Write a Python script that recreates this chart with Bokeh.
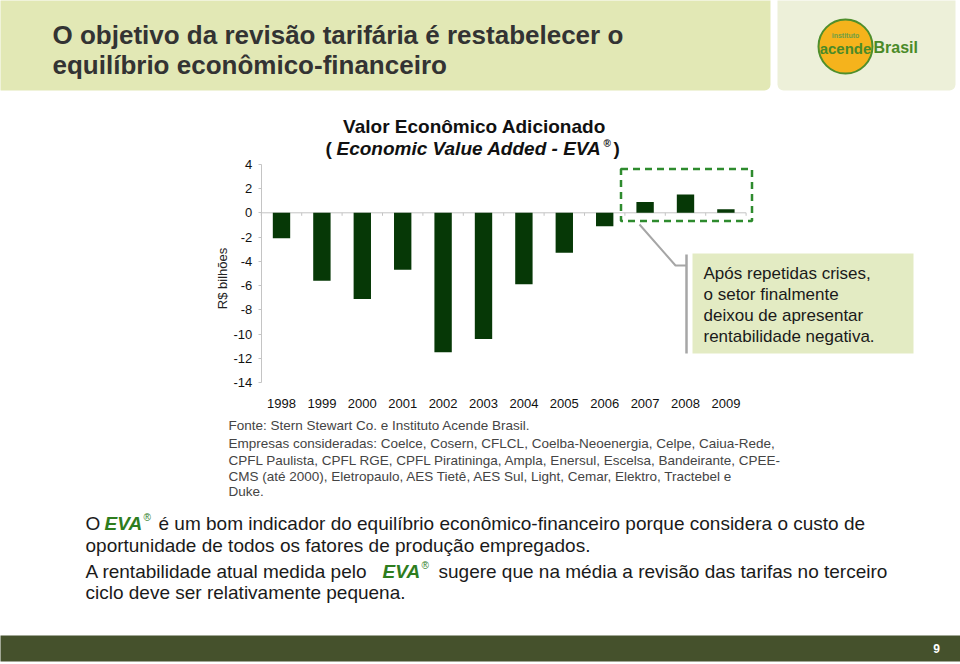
import math
from bokeh.plotting import figure
from bokeh.models import Range1d, LinearAxis, FixedTicker, Label, BoxAnnotation
from bokeh.embed import file_html
from bokeh.resources import INLINE

# ---- data ----
years = [1998, 1999, 2000, 2001, 2002, 2003, 2004, 2005, 2006, 2007, 2008, 2009]
year_labels = ["1998", "1999", "2000", "2001", "2002", "2003", "2004", "2005", "2006", "2007", "2008", "2009"]
eva = [-2.1, -5.6, -7.1, -4.7, -11.5, -10.4, -5.9, -3.3, -1.1, 0.9, 1.5, 0.3]
y_ticks = [-14, -12, -10, -8, -6, -4, -2, 0, 2, 4]
y_tick_labels = ["-14", "-12", "-10", "-8", "-6", "-4", "-2", "0", "2", "4"]

# ---- layout (page pixels) ----
W, H = 960, 664
X0, DX = 281.0, 40.4      # pixel of first category centre, pixels per category
Y0, DY = 212.3, 12.13     # pixel of value 0, pixels per unit
FONT = "Liberation Sans"
AXC = "#c4c4c4"

p = figure(width=W, height=H, output_backend="svg", toolbar_location=None,
           x_range=Range1d(years[0] - X0 / DX, years[0] + (W - X0) / DX),
           y_range=Range1d((Y0 - H) / DY, Y0 / DY),
           x_axis_location=None, y_axis_location=None,
           min_border=0, background_fill_color="white", border_fill_color="white",
           outline_line_color=None)
p.extra_x_ranges = {"page": Range1d(0, W)}
p.extra_y_ranges = {"page": Range1d(H, 0)}
p.grid.visible = False

def box(l, r, t, b, **kw):
    p.add_layout(BoxAnnotation(left=l, right=r, top=t, bottom=b,
                               x_range_name="page", y_range_name="page", **kw))

def lab(x, y, text, size, color="#1a1a1a", style="normal", align="left", font=FONT, angle=0):
    p.add_layout(Label(x=x, y=y, text=text, x_range_name="page", y_range_name="page",
                       text_font=font, text_font_size=size, text_color=color, angle=angle,
                       text_font_style=style, text_align=align, text_baseline="middle"))

# ---- header banner ----
box(-5, 770, -10, 90, fill_color="#e2e8b5", fill_alpha=1, line_color=None, border_radius=6)
box(777, 955, -10, 90, fill_color="#edf0d9", fill_alpha=1, line_color=None, border_radius=6)
lab(52, 34, "O objetivo da revisão tarifária é restabelecer o", "26px", "#333333", "bold")
lab(52, 64, "equilíbrio econômico-financeiro", "26px", "#333333", "bold")
# logo
box(818, 872, 19, 73, fill_color="#f5b31c", fill_alpha=1, line_color="#4f8f2c", line_alpha=1,
    line_width=2, border_radius=27)
lab(845, 35, "instituto", "7px", "#6f9f45", "bold", "center")
lab(845, 48, "acende", "15px", "#4a8a28", "bold", "center")
lab(873, 47, "Brasil", "16px", "#4a8a28", "bold", "left")

# ---- axes ----
bounds = [y - 0.5 for y in years] + [years[-1] + 0.5]

yax = LinearAxis(fixed_location=bounds[0], bounds=(y_ticks[0], y_ticks[-1]),
                 ticker=FixedTicker(ticks=y_ticks),
                 major_label_overrides=dict(zip(y_ticks, y_tick_labels)),
                 axis_line_color=AXC, major_tick_line_color=AXC,
                 major_tick_out=3, major_tick_in=0, minor_tick_line_color=None,
                 major_label_text_font=FONT, major_label_text_font_size="13px",
                 major_label_text_color="#111111", major_label_standoff=6)
p.add_layout(yax, "left")

xax = LinearAxis(fixed_location=y_ticks[0], bounds=(bounds[0], bounds[-1]),
                 ticker=FixedTicker(ticks=years),
                 major_label_overrides=dict(zip(years, year_labels)),
                 axis_line_color=None, major_tick_line_color=None, minor_tick_line_color=None,
                 major_label_text_font=FONT, major_label_text_font_size="13px",
                 major_label_text_color="#111111", major_label_standoff=10)
p.add_layout(xax, "below")

# zero line with category-boundary ticks
p.segment(x0=[bounds[0]], y0=[0], x1=[bounds[-1]], y1=[0], line_color=AXC, line_width=1)
p.segment(x0=bounds, y0=[0] * len(bounds), x1=bounds, y1=[-3 / DY] * len(bounds),
          line_color=AXC, line_width=1)

lab(222, 278, "R$ bilhões", "13px", "#222222", angle=math.pi / 2, align="center")

# ---- bars ----
p.vbar(x=years, top=eva, bottom=0, width=0.43, fill_color="#063806", line_color=None)

# ---- chart title ----
lab(474, 126, "Valor Econômico Adicionado", "19px", "#111111", "bold", "center")
lab(325, 148, "(", "19px", "#111111", "bold")
lab(336, 148, "Economic Value Added - EVA", "19px", "#111111", "bold italic")
lab(603, 143, "®", "10px", "#111111", "bold")
lab(613, 148, ")", "19px", "#111111", "bold")

# ---- highlight box & callout ----
box(620.5, 751.5, 168.5, 220.5, fill_alpha=0, line_color="#2e8b2e", line_alpha=1,
    line_width=2.5, line_dash="7 5")
p.line(x=[639, 675, 686], y=[224, 265, 265], x_range_name="page", y_range_name="page",
       line_color="#a6a6a6", line_width=2)
p.segment(x0=[686], y0=[254], x1=[686], y1=[353], x_range_name="page", y_range_name="page",
          line_color="#a6a6a6", line_width=2.5)
box(692, 913, 253, 353, fill_color="#e3ebc3", fill_alpha=1, line_color=None)
for yy, t in zip([273, 294, 315, 336],
                 ["Após repetidas crises,", "o setor finalmente",
                  "deixou de apresentar", "rentabilidade negativa."]):
    lab(703, yy, t, "17px", "#1a1a1a")

# ---- notes ----
lab(228, 425, "Fonte: Stern Stewart Co. e Instituto Acende Brasil.", "13.5px", "#444444")
notes = ["Empresas consideradas: Coelce, Cosern, CFLCL, Coelba-Neoenergia, Celpe, Caiua-Rede,",
         "CPFL Paulista, CPFL RGE, CPFL Piratininga, Ampla, Enersul, Escelsa, Bandeirante, CPEE-",
         "CMS (até 2000), Eletropaulo, AES Tietê, AES Sul, Light, Cemar, Elektro, Tractebel e",
         "Duke."]
for yy, t in zip([443, 460, 476, 491], notes):
    lab(228, yy, t, "13.5px", "#444444")

# ---- bottom text ----
lab(85, 523, "O", "19px")
lab(104, 523, "EVA", "19px", "#2e7d1e", "bold italic")
lab(143, 517, "®", "10px", "#2e7d1e")
lab(158, 523, "é um bom indicador do equilíbrio econômico-financeiro porque considera o custo de", "19px")
lab(85, 545, "oportunidade de todos os fatores de produção empregados.", "19px")
lab(85, 571, "A rentabilidade atual medida pelo", "19px")
lab(382, 571, "EVA", "19px", "#2e7d1e", "bold italic")
lab(421, 565, "®", "10px", "#2e7d1e")
lab(438, 571, "sugere que na média a revisão das tarifas no terceiro", "19px")
lab(85, 592, "ciclo deve ser relativamente pequena.", "19px")

# ---- footer ----
box(-5, 965, 635, 661, fill_color="#45512c", fill_alpha=1, line_color=None)
lab(936, 648, "9", "12px", "white", "bold", "center")

open("out.html", "w").write(file_html(p, INLINE))
